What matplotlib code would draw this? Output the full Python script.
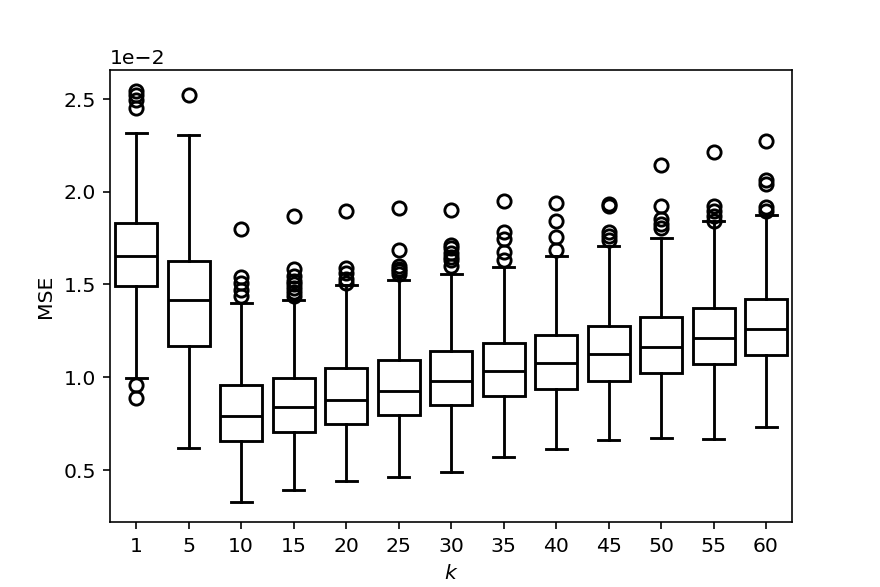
import matplotlib
matplotlib.use("Agg")
import matplotlib.pyplot as plt

k_labels = ["1", "5", "10", "15", "20", "25", "30", "35", "40", "45", "50", "55", "60"]

# values in units of 1e-2
q1 = [1.491, 1.170, 0.656, 0.708, 0.751, 0.797, 0.853, 0.900, 0.939, 0.980, 1.025, 1.070, 1.118]
median = [1.652, 1.418, 0.790, 0.839, 0.877, 0.928, 0.982, 1.036, 1.078, 1.124, 1.166, 1.212, 1.260]
q3 = [1.832, 1.625, 0.957, 0.995, 1.050, 1.091, 1.140, 1.185, 1.230, 1.276, 1.326, 1.376, 1.421]
whislo = [0.996, 0.618, 0.330, 0.396, 0.441, 0.462, 0.491, 0.572, 0.613, 0.661, 0.674, 0.670, 0.731]
whishi = [2.314, 2.306, 1.400, 1.418, 1.496, 1.525, 1.556, 1.593, 1.651, 1.706, 1.751, 1.844, 1.873]
fliers = [
    [2.543, 2.520, 2.493, 2.448, 0.957, 0.889],
    [2.518],
    [1.799, 1.543, 1.507, 1.473, 1.436],
    [1.866, 1.584, 1.548, 1.520, 1.500, 1.480, 1.460, 1.440],
    [1.898, 1.590, 1.560, 1.530, 1.510],
    [1.910, 1.688, 1.600, 1.585, 1.570, 1.557],
    [1.900, 1.715, 1.695, 1.670, 1.650, 1.630, 1.600],
    [1.952, 1.780, 1.745, 1.674, 1.630],
    [1.940, 1.840, 1.755, 1.683],
    [1.934, 1.925, 1.780, 1.763, 1.737],
    [2.144, 1.925, 1.853, 1.826, 1.805],
    [2.211, 1.925, 1.898, 1.871, 1.844],
    [2.270, 2.063, 2.041, 1.916, 1.898],
]

scale = 1e-2
stats = []
for i in range(len(k_labels)):
    stats.append(dict(
        med=median[i] * scale, q1=q1[i] * scale, q3=q3[i] * scale,
        whislo=whislo[i] * scale, whishi=whishi[i] * scale,
        fliers=[f * scale for f in fliers[i]], label=k_labels[i],
    ))

DPI = 880 / 6
fig = plt.figure(figsize=(880.3 / DPI, 587.3 / DPI), dpi=DPI)
ax = fig.add_subplot(111)

lw = 1.4
ax.bxp(stats, positions=range(len(k_labels)), widths=0.8, patch_artist=True,
       boxprops=dict(facecolor="white", edgecolor="black", linewidth=lw),
       medianprops=dict(color="black", linewidth=lw),
       whiskerprops=dict(color="black", linewidth=lw),
       capprops=dict(color="black", linewidth=lw),
       flierprops=dict(marker="o", markerfacecolor="none", markeredgecolor="black",
                       markersize=6.5, markeredgewidth=lw))

ax.set_xlim(-0.5, len(k_labels) - 0.5)
ax.ticklabel_format(axis="y", style="sci", scilimits=(0, 0))
ax.set_xlabel("$k$")
ax.set_ylabel("MSE")

fig.savefig("out.png", dpi=DPI)
